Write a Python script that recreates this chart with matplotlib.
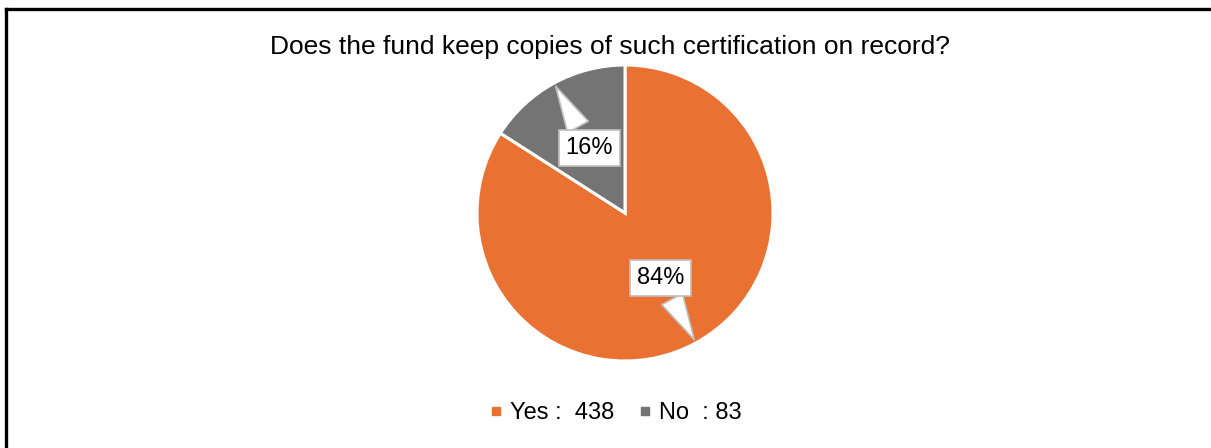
import numpy as np
import matplotlib
matplotlib.use('Agg')
import matplotlib.pyplot as plt
from matplotlib.lines import Line2D

plt.rcParams['font.family'] = ['Liberation Sans', 'DejaVu Sans']

# 数据
labels = ['Yes', 'No']
counts = [438, 83]
legend_labels = ['Yes :  438', 'No  : 83']
colors = ['#E97132', '#747474']
title = 'Does the fund keep copies of such certification on record?'

W, H = 1211, 448
fig = plt.figure(figsize=(W / 100, H / 100), dpi=100)

# 饼图区域 (中心 625,213  半径 148 px)
cx, cy, r = 625, 213, 148
ax = fig.add_axes([(cx - r) / W, (H - cy - r) / H, 2 * r / W, 2 * r / H])
wedges, _ = ax.pie(counts, colors=colors, startangle=90, counterclock=False,
                   radius=1.0, wedgeprops=dict(edgecolor='white', linewidth=2.2))
ax.set_xlim(-1, 1)
ax.set_ylim(-1, 1)
ax.set_aspect('equal')

# 百分比标注框
total = sum(counts)
for w, c in zip(wedges, counts):
    ang = np.deg2rad((w.theta1 + w.theta2) / 2)
    tip = (0.995 * np.cos(ang), 0.995 * np.sin(ang))
    txt = (0.5 * np.cos(ang), 0.5 * np.sin(ang))
    ax.annotate(f'{c / total * 100:.0f}%', xy=tip, xytext=txt,
                ha='center', va='center', fontsize=17,
                bbox=dict(boxstyle='square,pad=0.3', fc='white', ec='#BFBFBF', lw=1.2),
                arrowprops=dict(arrowstyle='wedge,tail_width=1.0,shrink_factor=0.5',
                                fc='white', ec='#BFBFBF', lw=1.2))

fig.text(610 / W, 1 - 47 / H, title, ha='center', va='center', fontsize=19)

# 图例
handles = [Line2D([], [], marker='s', ls='', color=c, markersize=6) for c in colors]
fig.legend(handles, legend_labels, loc='center', bbox_to_anchor=(615 / W, 1 - 413 / H),
           ncol=2, frameon=False, fontsize=17, handlelength=0.6, handletextpad=0.3,
           columnspacing=1.0)

# 左、上边框
x0, y0 = 5.5 / W, 1 - 9.5 / H
fig.add_artist(Line2D([x0, x0], [0, y0], color='black', lw=2.4, transform=fig.transFigure))
fig.add_artist(Line2D([x0, 1], [y0, y0], color='black', lw=2.4, transform=fig.transFigure))

plt.savefig('out.png', dpi=100)
